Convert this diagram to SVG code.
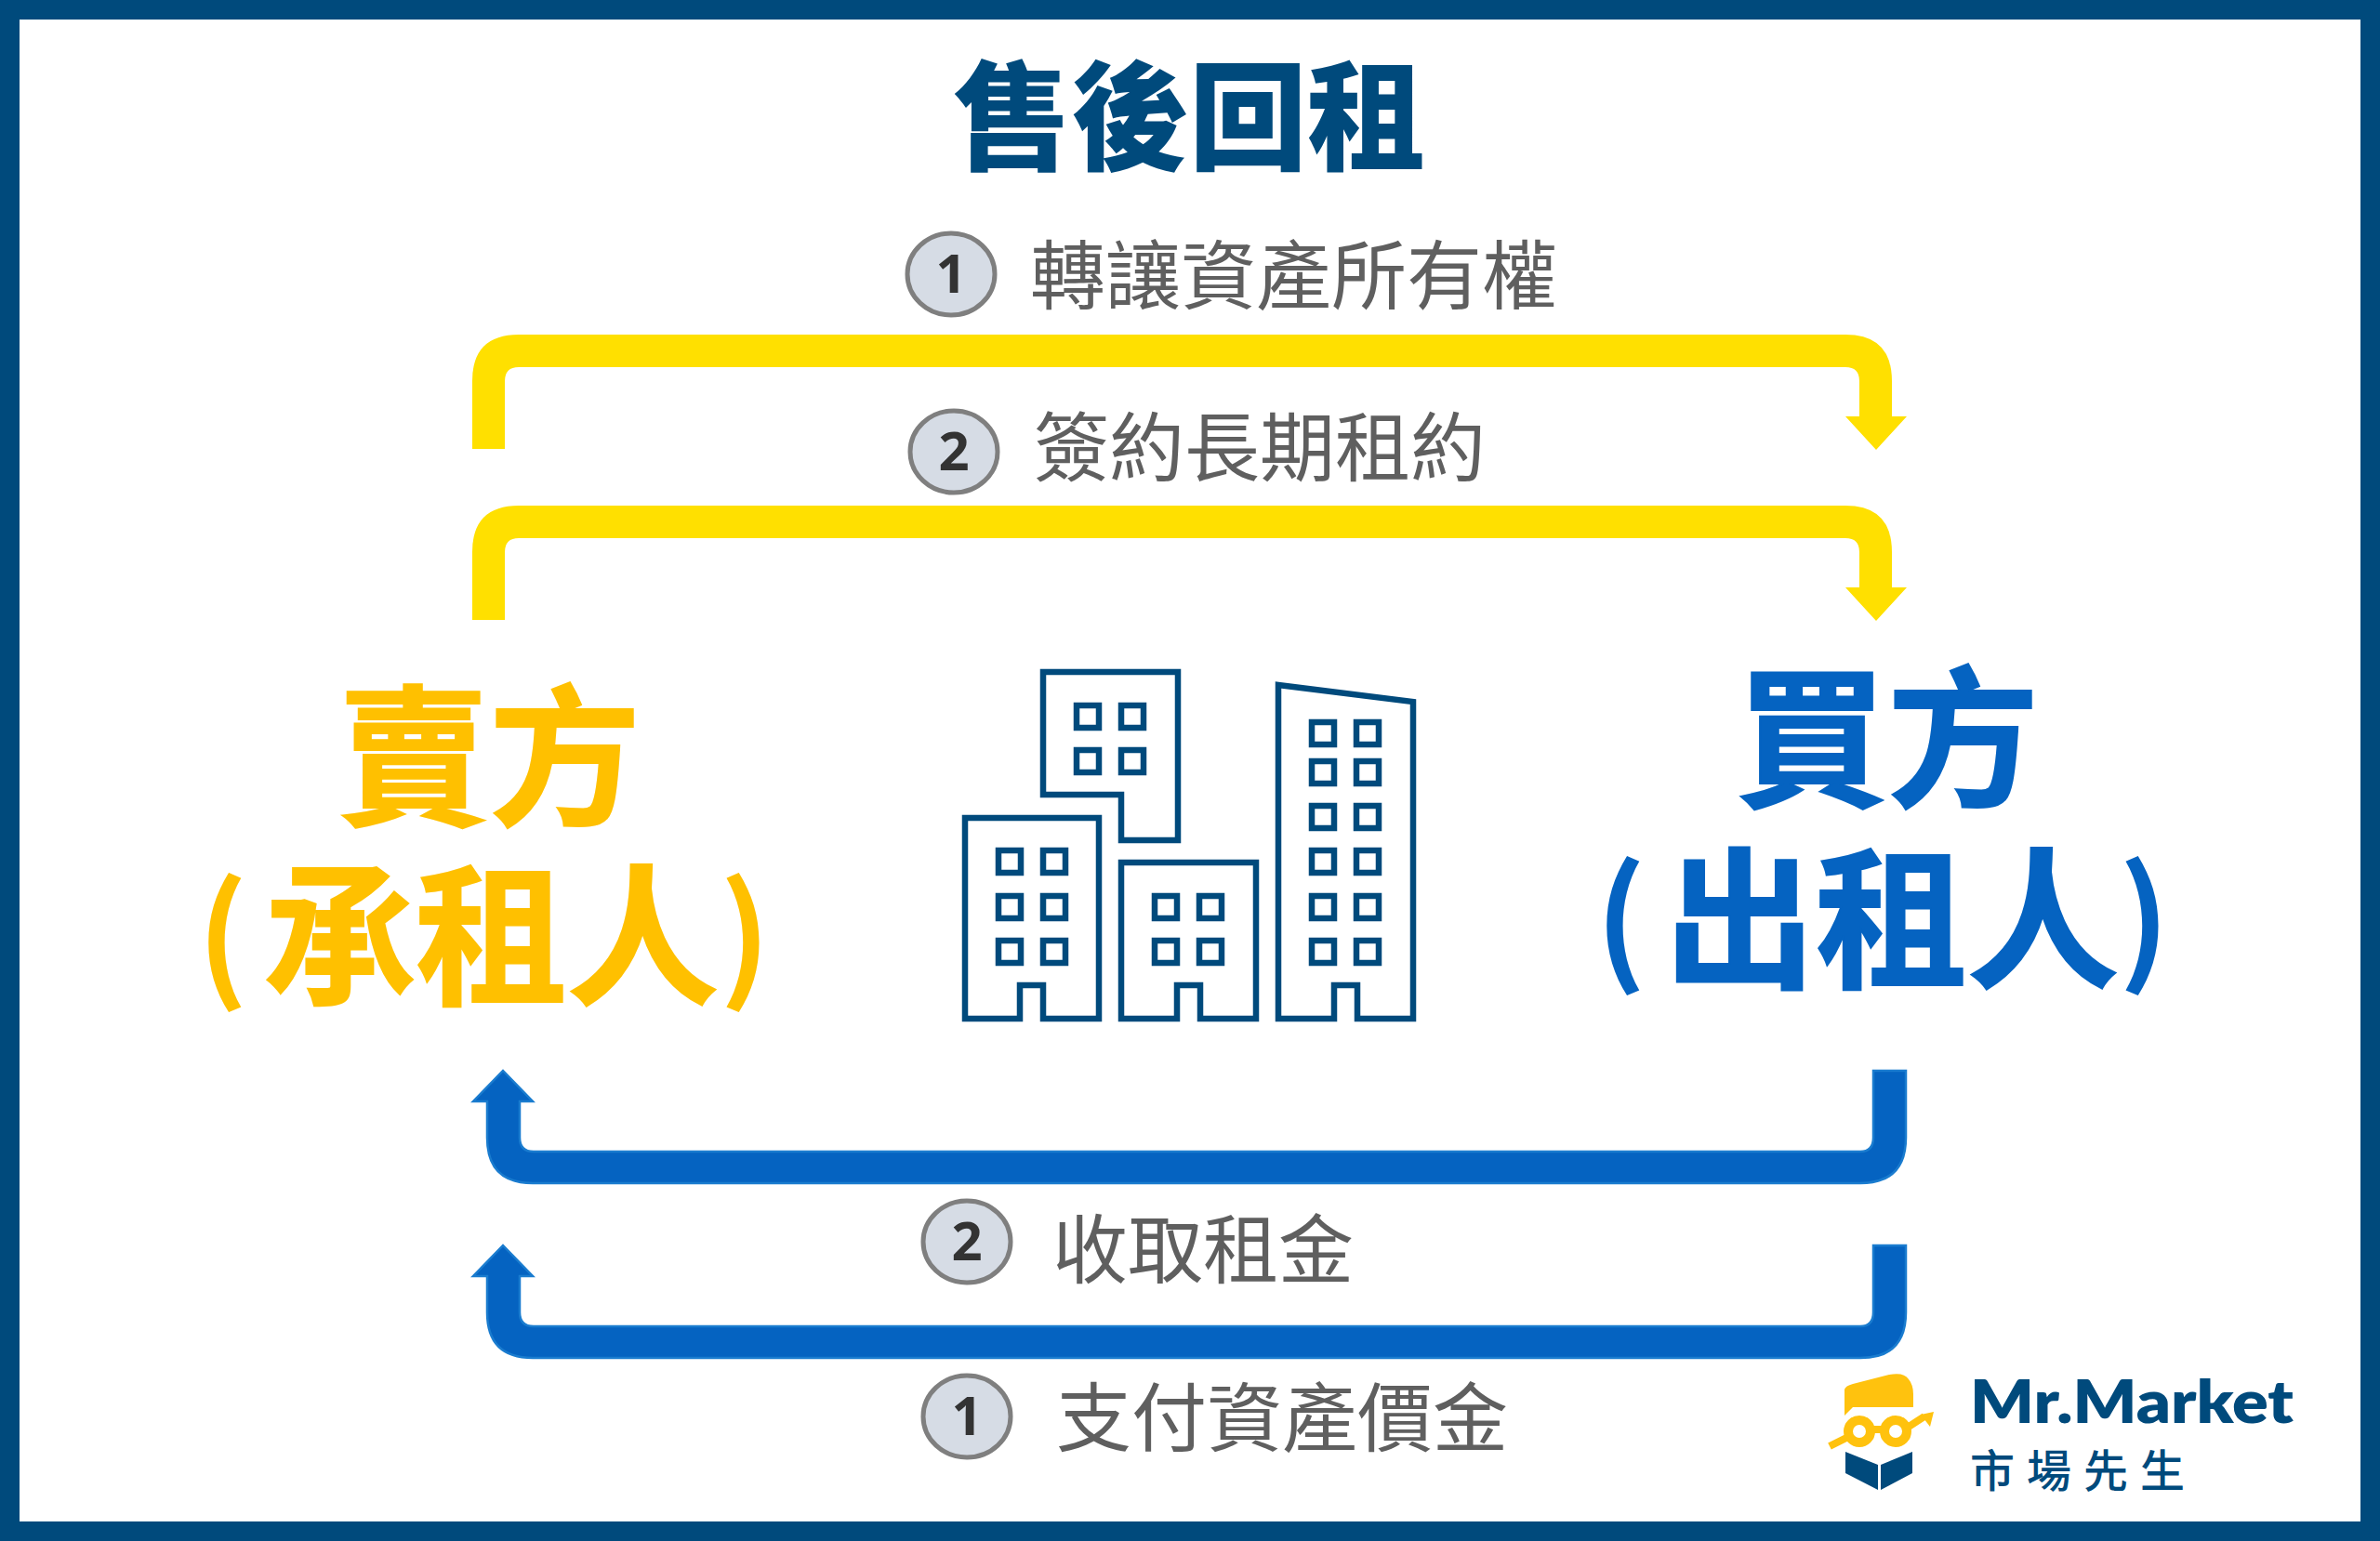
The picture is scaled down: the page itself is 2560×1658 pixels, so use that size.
<svg xmlns="http://www.w3.org/2000/svg" width="2560" height="1658" viewBox="0 0 2560 1658">
<style>
text{font-family:"Noto Sans CJK TC","Noto Sans CJK SC",sans-serif}
.lb{font-size:81px;fill:#5f5f5f;font-weight:400}
.big{font-size:163px;font-weight:700;stroke-width:2}
.par{font-size:145px;font-weight:700;stroke-width:0}
.or{fill:#ffc000;stroke:#ffc000}.bl{fill:#0563c1;stroke:#0563c1}
.num{font-family:"Open Sans","Liberation Sans",sans-serif;font-size:58px;font-weight:700;fill:#333;text-anchor:middle}
.c{fill:#d6dce5;stroke:#7f7f7f;stroke-width:5}
.b{fill:none;stroke:#004a7c;stroke-width:6.5;stroke-linejoin:miter}
.ya{fill:#ffe000}.ba{fill:#0563c1;stroke:#1a7ccf;stroke-width:2.5}
</style>
<defs>
<path id="ya" d="M508 483V410Q508 360 558 360H1985Q2035 360 2035 410V448H2051L2018 484L1985 448H2000V410Q2000 395 1985 395H558Q543 395 543 410V483Z"/>
<path id="ba" d="M2050 1152V1224Q2050 1273 2001 1273H573Q524 1273 524 1224V1185H509L541 1152L573 1185H559V1224Q559 1239 574 1239H2001Q2015 1239 2015 1224V1152Z"/>
<rect id="w" width="24" height="24"/>
</defs>
<rect width="2560" height="1658" fill="#004a7c"/>
<rect x="21" y="21" width="2518" height="1616" fill="#fff"/>
<g id="title"><text x="1279" y="173" font-size="127" font-weight="900" fill="#004a7c" text-anchor="middle">售後回租</text></g>
<g id="connectors">
<use href="#ya" class="ya"/>
<use href="#ya" class="ya" y="184"/>
<use href="#ba" class="ba"/>
<use href="#ba" class="ba" y="188"/>
</g>
<g id="label-transfer"><ellipse class="c" cx="1023" cy="295" rx="47" ry="44"/><text class="num" x="1023" y="315">1</text><text class="lb" x="1108" y="326">轉讓資產所有權</text></g>
<g id="label-lease"><ellipse class="c" cx="1026" cy="486" rx="47" ry="44"/><text class="num" x="1026" y="506">2</text><text class="lb" x="1112" y="511">簽約長期租約</text></g>
<g id="label-rent"><ellipse class="c" cx="1040" cy="1336" rx="47" ry="44"/><text class="num" x="1040" y="1356">2</text><text class="lb" x="1132" y="1374">收取租金</text></g>
<g id="label-pay"><ellipse class="c" cx="1040" cy="1524" rx="47" ry="44"/><text class="num" x="1040" y="1544">1</text><text class="lb" x="1136" y="1555">支付資產價金</text></g>
<g id="seller"><text class="big or" x="363" y="875">賣方</text><text class="big or" y="1068"><tspan class="par" x="212" y="1060">(</tspan><tspan x="284" y="1068">承租人</tspan><tspan class="par" x="774" y="1060">)</tspan></text></g>
<g id="buyer"><text class="big bl" x="1867" y="855">買方</text><text class="big bl" y="1050"><tspan class="par" x="1716" y="1042">(</tspan><tspan x="1790" y="1050">出租人</tspan><tspan class="par" x="2279" y="1042">)</tspan></text></g>
<g id="buildings">
<path class="b" d="M1038 880H1182V1096H1122V1060H1097V1096H1038Z"/>
<path class="b" d="M1122 723H1267V904H1206V855H1122Z"/>
<path class="b" d="M1206 928H1351V1096H1291V1060H1266V1096H1206Z"/>
<path class="b" d="M1375 737L1520 755V1096H1460V1060H1435V1096H1375Z"/>
<g class="b">
<use href="#w" x="1074" y="915"/><use href="#w" x="1122" y="915"/><use href="#w" x="1074" y="964"/><use href="#w" x="1122" y="964"/><use href="#w" x="1074" y="1012"/><use href="#w" x="1122" y="1012"/>
<use href="#w" x="1158" y="759"/><use href="#w" x="1206" y="759"/><use href="#w" x="1158" y="807"/><use href="#w" x="1206" y="807"/>
<use href="#w" x="1242" y="964"/><use href="#w" x="1290" y="964"/><use href="#w" x="1242" y="1012"/><use href="#w" x="1290" y="1012"/>
<use href="#w" x="1411" y="777"/><use href="#w" x="1459" y="777"/><use href="#w" x="1411" y="819"/><use href="#w" x="1459" y="819"/><use href="#w" x="1411" y="867"/><use href="#w" x="1459" y="867"/><use href="#w" x="1411" y="915"/><use href="#w" x="1459" y="915"/><use href="#w" x="1411" y="964"/><use href="#w" x="1459" y="964"/><use href="#w" x="1411" y="1012"/><use href="#w" x="1459" y="1012"/>
</g>
</g>
<g id="logo">
<path fill="#ffc20e" d="M1984 1523V1495Q1985 1491 1993 1489L2032 1479Q2048 1476 2053 1484Q2058 1490 2058 1500V1514H1993Z"/>
<path fill="#004a7c" d="M1985 1562L2020 1576V1603L1985 1585ZM2023 1576L2057 1562V1585L2023 1603Z"/>
<g fill="none" stroke="#ffc20e"><circle cx="2000" cy="1540" r="12" stroke-width="10"/><circle cx="2039" cy="1540" r="12" stroke-width="10"/><path stroke-width="8" d="M1968 1556L1990 1545M2011 1538L2028 1538M2050 1537L2070 1524"/></g>
<path fill="#ffc20e" d="M2080 1519L2076 1535L2066 1522Z"/>
<text x="2119" y="1531" font-size="64" font-weight="800" fill="#004a7c" textLength="348" lengthAdjust="spacingAndGlyphs" style="font-family:Lato,'Liberation Sans',sans-serif">Mr.Market</text>
<text x="2119" y="1600" font-size="48" font-weight="500" fill="#004a7c" letter-spacing="13">市場先生</text>
</g>
</svg>
